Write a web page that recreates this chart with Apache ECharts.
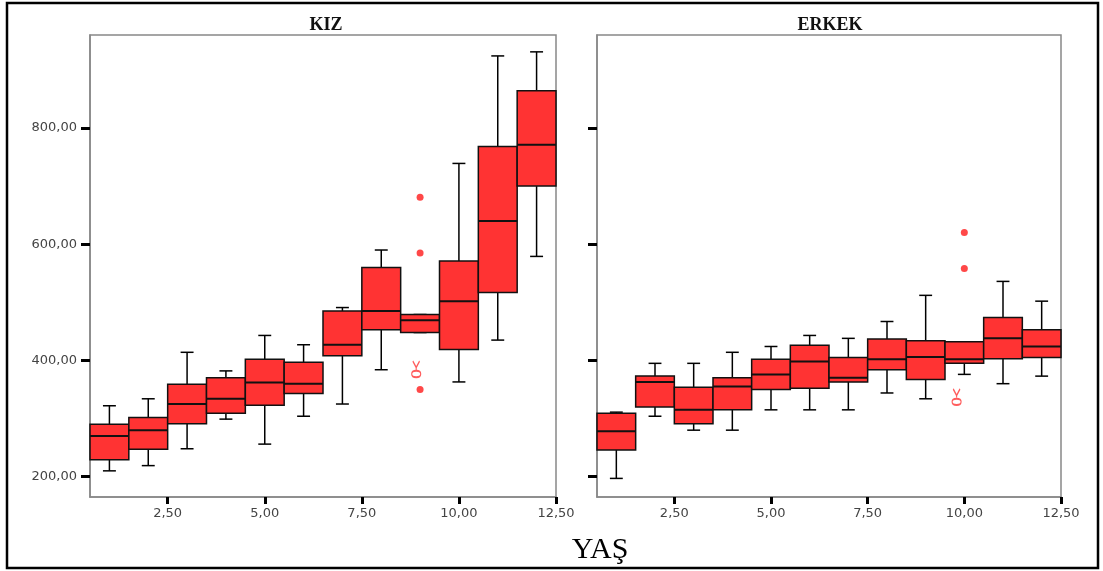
<html>
<head>
    <meta charset="utf-8">
    <title>YAŞ boxplot</title>
    <style>
        html, body, #main {
            padding: 0;
            margin: 0;
            width: 100%;
            height: 100%;
            background: #fff;
        }
    </style>
    <script src="https://cdn.jsdelivr.net/npm/echarts@6/dist/echarts.min.js"></script>
</head>
<body>
    <div id="main"></div>
    <script>
        // ages on the x axis
        var ages = [1, 2, 3, 4, 5, 6, 7, 8, 9, 10, 11, 12];
        var xTicks = [2.5, 5, 7.5, 10, 12.5];
        var yTicks = [200, 400, 600, 800];

        // KIZ five-number summaries
        var kizLow = [210, 219, 248, 299, 256, 304, 325, 384, 448, 363, 435, 579];
        var kizQ1 = [229, 247, 291, 309, 323, 343, 408, 453, 448, 419, 517, 700];
        var kizMed = [270, 280, 325, 334, 362, 360, 427, 485, 469, 502, 640, 771];
        var kizQ3 = [290, 302, 359, 370, 402, 397, 485, 560, 479, 571, 768, 864];
        var kizHigh = [322, 334, 414, 382, 443, 427, 491, 590, 479, 739, 924, 931];
        var kizOutliers = [[9, 681], [9, 585], [9, 350]];
        var kizExtreme = [[8.9, 385]];

        // ERKEK five-number summaries
        var erkLow = [197, 304, 280, 280, 315, 315, 315, 344, 334, 376, 360, 373];
        var erkQ1 = [246, 320, 291, 315, 350, 352, 363, 384, 367, 395, 403, 405];
        var erkMed = [278, 363, 315, 355, 376, 398, 370, 402, 406, 402, 438, 424];
        var erkQ3 = [309, 373, 354, 370, 402, 426, 405, 437, 434, 432, 474, 453];
        var erkHigh = [311, 395, 395, 414, 424, 443, 438, 467, 512, 432, 536, 502];
        var erkOutliers = [[10, 620], [10, 558]];
        var erkExtreme = [[9.8, 337]];

        function rows(low, q1, med, q3, high) {
            return ages.map(function (a, i) {
                return [a, low[i], q1[i], med[i], q3[i], high[i]];
            });
        }

        function renderBox(params, api) {
            var x = api.value(0);
            var lo = api.coord([x, api.value(1)]);
            var q1 = api.coord([x, api.value(2)]);
            var md = api.coord([x, api.value(3)]);
            var q3 = api.coord([x, api.value(4)]);
            var hi = api.coord([x, api.value(5)]);
            var w = api.size([1, 0])[0];
            var cap = w / 3;
            var cx = lo[0];
            var ln = { stroke: '#000', lineWidth: 1.5 };
            return {
                type: 'group',
                children: [
                    { type: 'line', shape: { x1: cx, y1: hi[1], x2: cx, y2: q3[1] }, style: ln },
                    { type: 'line', shape: { x1: cx, y1: q1[1], x2: cx, y2: lo[1] }, style: ln },
                    { type: 'line', shape: { x1: cx - cap / 2, y1: hi[1], x2: cx + cap / 2, y2: hi[1] }, style: ln },
                    { type: 'line', shape: { x1: cx - cap / 2, y1: lo[1], x2: cx + cap / 2, y2: lo[1] }, style: ln },
                    {
                        type: 'rect',
                        shape: { x: cx - w / 2, y: q3[1], width: w, height: q1[1] - q3[1] },
                        style: { fill: '#ff3333', stroke: '#111', lineWidth: 1.5 }
                    },
                    { type: 'line', shape: { x1: cx - w / 2, y1: md[1], x2: cx + w / 2, y2: md[1] }, style: { stroke: '#111', lineWidth: 2 } }
                ]
            };
        }

        var labelFont = { color: '#444', fontSize: 13, fontFamily: 'DejaVu Sans' };
        var glyph = 'path://M1,0 L4,6 L7,0 M4,6 L4,8 M0,12 C0,8 8,8 8,12 C8,16 0,16 0,12 Z';

        function xAxis(idx) {
            return {
                type: 'value', gridIndex: idx, min: 0.5, max: 12.5,
                splitLine: { show: false },
                axisLine: { show: true, lineStyle: { color: '#888', width: 1.5 } },
                axisTick: { show: true, customValues: xTicks, length: 7, lineStyle: { color: '#000', width: 3 } },
                axisLabel: Object.assign({
                    customValues: xTicks, margin: 10,
                    formatter: function (v) { return v.toFixed(2).replace('.', ','); }
                }, labelFont)
            };
        }

        function yAxis(idx, showLabel) {
            return {
                type: 'value', gridIndex: idx, min: 165, max: 960,
                splitLine: { show: false },
                axisLine: { show: true, lineStyle: { color: '#888', width: 1.5 } },
                axisTick: { show: true, customValues: yTicks, length: 9, lineStyle: { color: '#000', width: 3 } },
                axisLabel: Object.assign({
                    show: showLabel, customValues: yTicks, margin: 13,
                    formatter: function (v) { return v.toFixed(2).replace('.', ','); }
                }, labelFont)
            };
        }

        var chart = echarts.init(document.getElementById('main'));
        chart.setOption({
            animation: false,
            backgroundColor: '#fff',
            title: [
                { text: 'KIZ', left: 321, top: 11, textAlign: 'center',
                  textStyle: { fontFamily: 'Liberation Serif', fontWeight: 'bold', fontSize: 18, color: '#111' } },
                { text: 'ERKEK', left: 825, top: 11, textAlign: 'center',
                  textStyle: { fontFamily: 'Liberation Serif', fontWeight: 'bold', fontSize: 18, color: '#111' } }
            ],
            grid: [
                { left: 90, right: 547, top: 35, bottom: 74, show: true, borderColor: '#888', borderWidth: 1.5 },
                { left: 597, right: 42, top: 35, bottom: 74, show: true, borderColor: '#888', borderWidth: 1.5 }
            ],
            xAxis: [xAxis(0), xAxis(1)],
            yAxis: [yAxis(0, true), yAxis(1, false)],
            graphic: [
                { type: 'rect', shape: { x: 7, y: 3, width: 1091, height: 565 },
                  style: { fill: 'none', stroke: '#000', lineWidth: 2.5 } },
                { type: 'text', x: 600, y: 550,
                  style: { text: 'YAŞ', fontFamily: 'Liberation Serif', fontSize: 30, fill: '#000',
                           textAlign: 'center', textVerticalAlign: 'middle' } }
            ],
            series: [
                { type: 'custom', xAxisIndex: 0, yAxisIndex: 0, renderItem: renderBox,
                  encode: { x: 0, y: [1, 2, 3, 4, 5] },
                  data: rows(kizLow, kizQ1, kizMed, kizQ3, kizHigh) },
                { type: 'custom', xAxisIndex: 1, yAxisIndex: 1, renderItem: renderBox,
                  encode: { x: 0, y: [1, 2, 3, 4, 5] },
                  data: rows(erkLow, erkQ1, erkMed, erkQ3, erkHigh) },
                { type: 'scatter', xAxisIndex: 0, yAxisIndex: 0, symbol: 'circle', symbolSize: 7,
                  itemStyle: { color: '#ff1a1a' }, data: kizOutliers },
                { type: 'scatter', xAxisIndex: 1, yAxisIndex: 1, symbol: 'circle', symbolSize: 7,
                  itemStyle: { color: '#ff1a1a' }, data: erkOutliers },
                { type: 'scatter', xAxisIndex: 0, yAxisIndex: 0, symbol: glyph, symbolSize: [9, 16],
                  itemStyle: { color: 'none', borderColor: '#ff3333', borderWidth: 1.5 }, data: kizExtreme },
                { type: 'scatter', xAxisIndex: 1, yAxisIndex: 1, symbol: glyph, symbolSize: [9, 16],
                  itemStyle: { color: 'none', borderColor: '#ff3333', borderWidth: 1.5 }, data: erkExtreme }
            ]
        });
    </script>
</body>
</html>
